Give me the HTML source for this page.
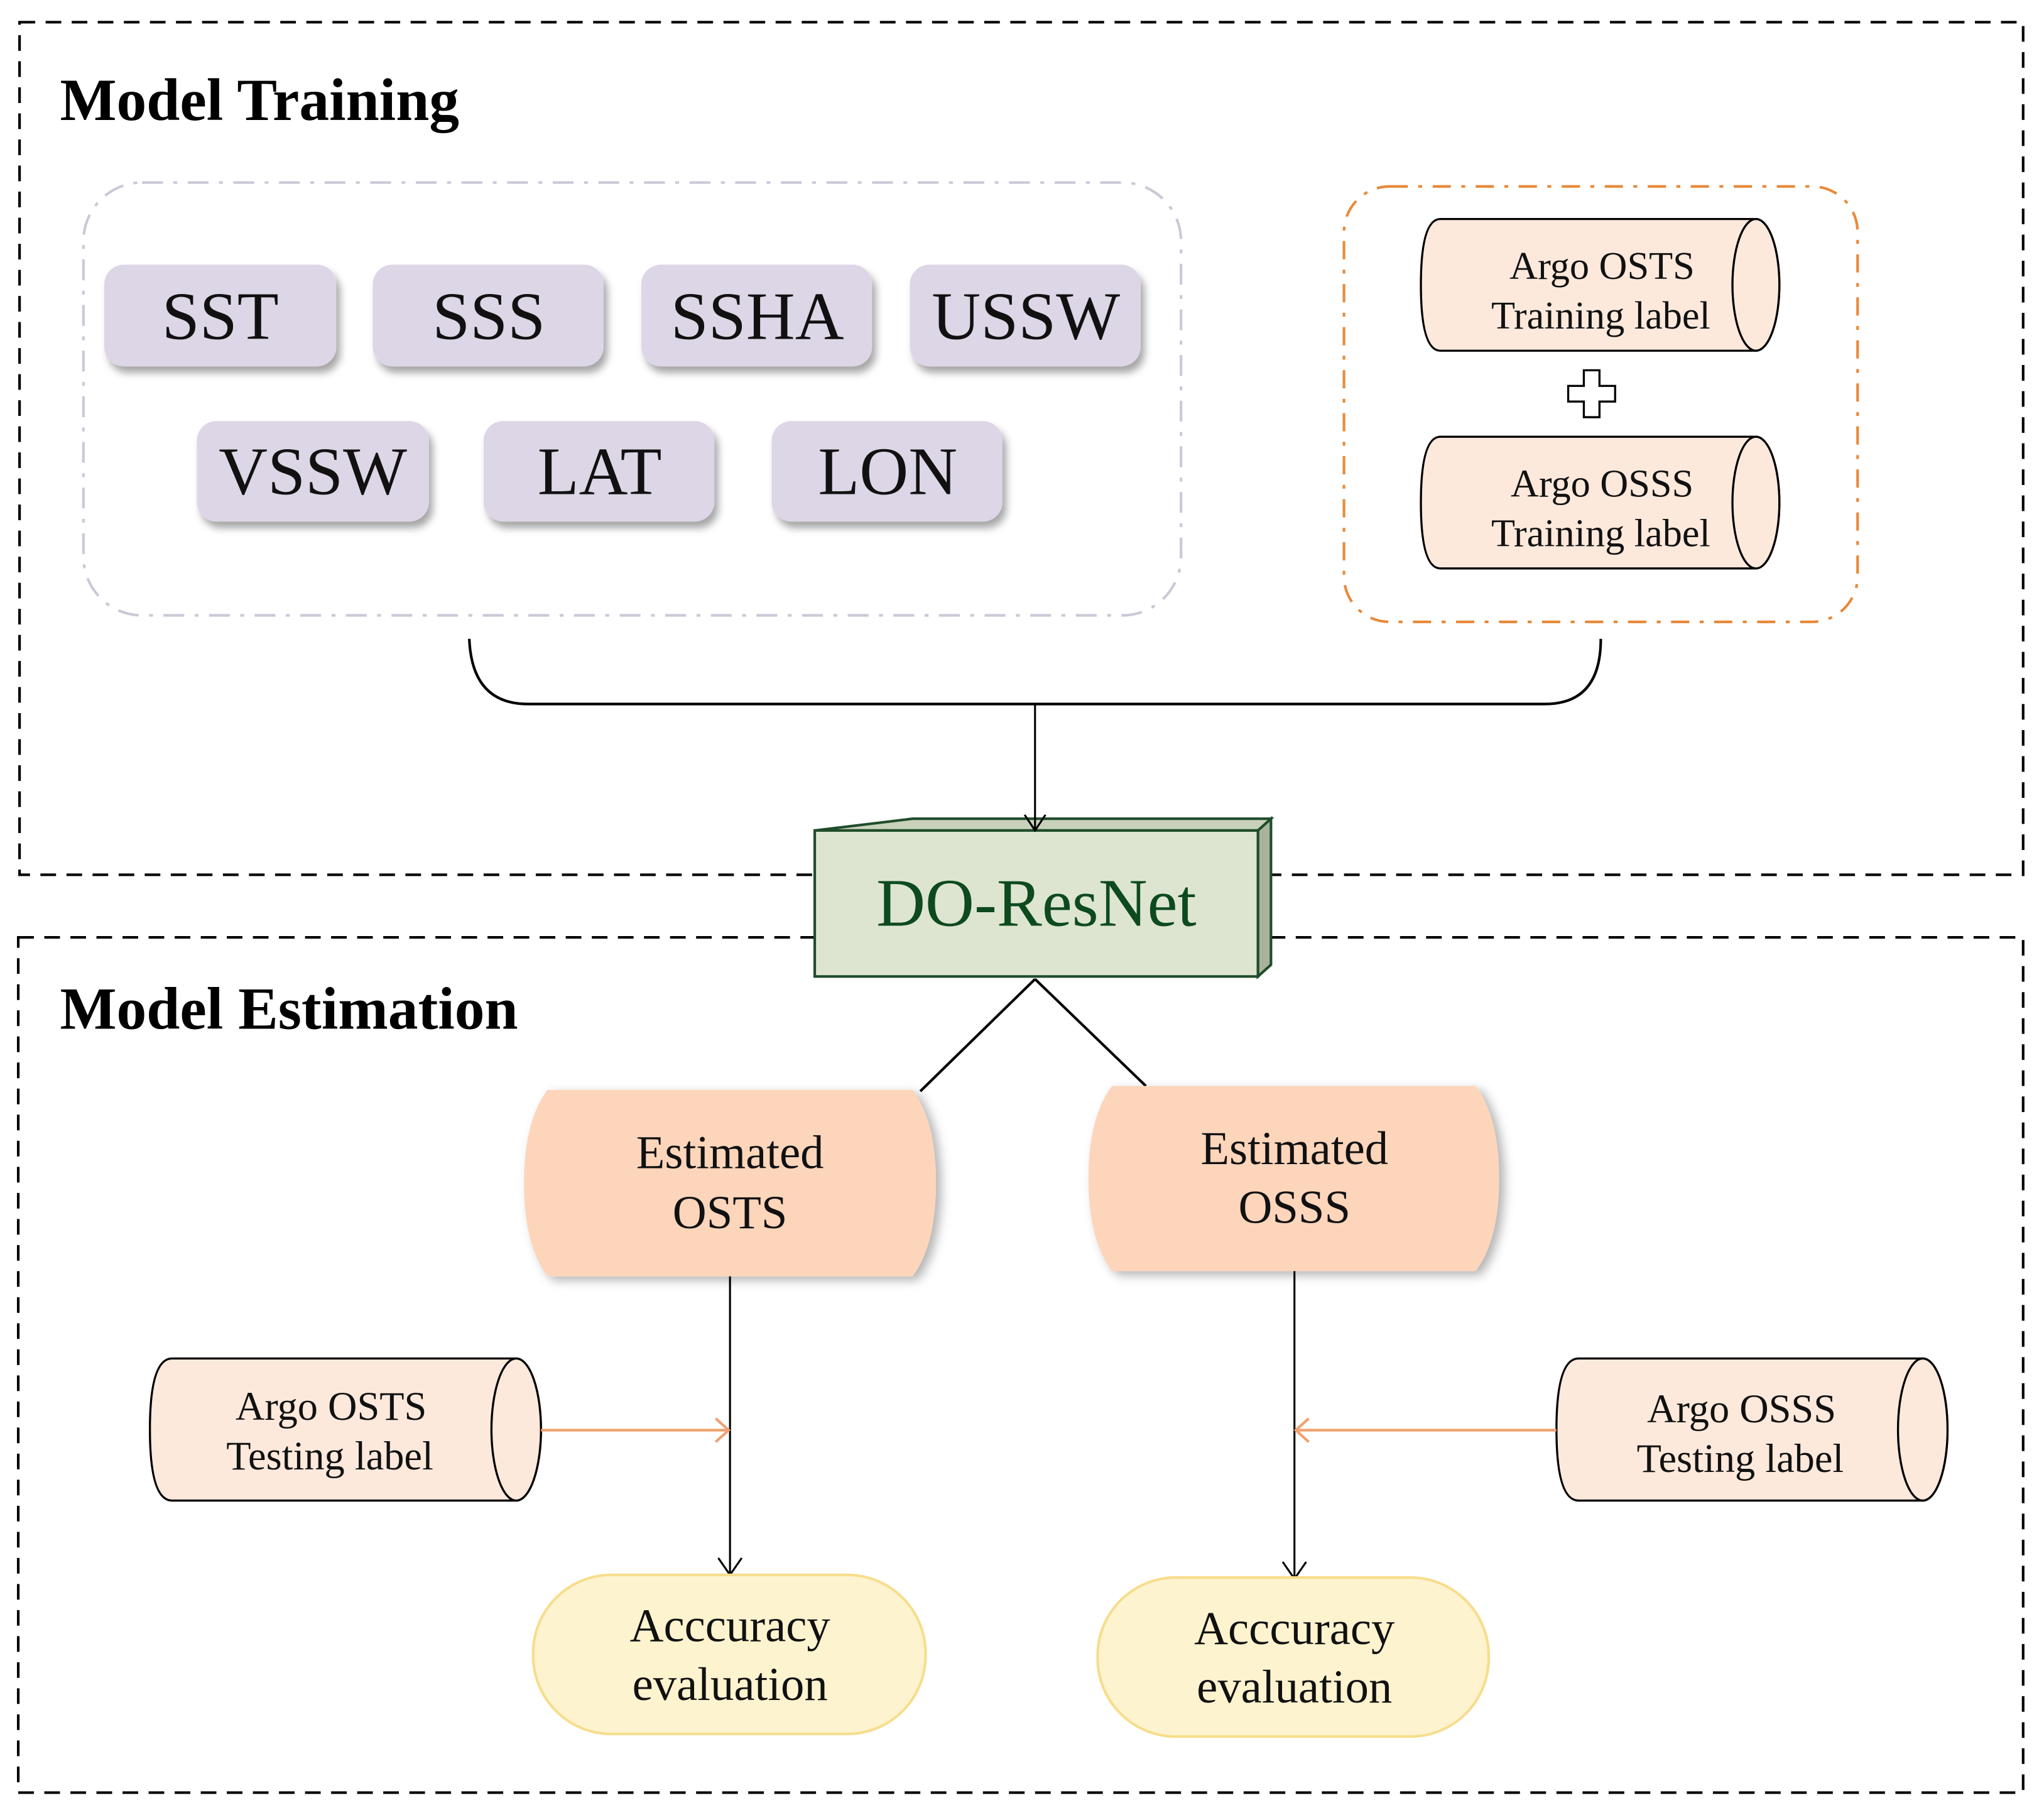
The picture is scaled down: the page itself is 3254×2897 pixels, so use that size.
<!DOCTYPE html>
<html><head><meta charset="utf-8"><style>
html,body{margin:0;padding:0;background:#fff;}
svg{display:block;}
text{font-family:"Liberation Serif",serif;}
</style></head><body>
<svg width="3254" height="2897" viewBox="0 0 1568 1396" preserveAspectRatio="none" xmlns="http://www.w3.org/2000/svg">
<defs>
<filter id="sh" x="-10%" y="-10%" width="130%" height="140%"><feDropShadow dx="3" dy="5" stdDeviation="3" flood-color="#000" flood-opacity="0.35"/></filter>
<filter id="sh2" x="-10%" y="-10%" width="130%" height="130%"><feDropShadow dx="4" dy="3" stdDeviation="4" flood-color="#000" flood-opacity="0.3"/></filter>
</defs>
<rect x="15" y="17" width="1537" height="654" fill="none" stroke="#000" stroke-width="2" stroke-dasharray="12,8"/>
<rect x="14" y="719" width="1538" height="656" fill="none" stroke="#000" stroke-width="2" stroke-dasharray="12,8"/>
<text x="46" y="92" font-size="46" font-weight="bold">Model Training</text>
<text x="46" y="789" font-size="46" font-weight="bold">Model Estimation</text>

<rect x="64" y="140" width="842" height="332" rx="45" fill="none" stroke="#c9c9d8" stroke-width="2" stroke-dasharray="16,8,3,8"/>
<g filter="url(#sh)" fill="#ddd6e6">
<rect x="80" y="203" width="178" height="78" rx="15"/>
<rect x="286" y="203" width="177" height="78" rx="15"/>
<rect x="492" y="203" width="177" height="78" rx="15"/>
<rect x="698" y="203" width="177" height="78" rx="15"/>
<rect x="151" y="323" width="178" height="77" rx="15"/>
<rect x="371" y="323" width="177" height="77" rx="15"/>
<rect x="592" y="323" width="177" height="77" rx="15"/>
</g>
<g font-size="52" text-anchor="middle" fill="#111">
<text x="169" y="260">SST</text>
<text x="375" y="260">SSS</text>
<text x="581" y="260">SSHA</text>
<text x="787" y="260">USSW</text>
<text x="240" y="379">VSSW</text>
<text x="460" y="379">LAT</text>
<text x="681" y="379">LON</text>
</g>

<rect x="1031" y="143" width="394" height="334" rx="35" fill="none" stroke="#e8893a" stroke-width="2" stroke-dasharray="14,8,3,8"/>
<g stroke="#000" stroke-width="1.6" fill="#fde9dc">
<path d="M1105,168 L1347,168 A18,50.5 0 0 1 1347,269 L1105,269 Q1090,269 1090,218.5 Q1090,168 1105,168 Z"/>
<ellipse cx="1347" cy="218.5" rx="18" ry="50.5"/>
<path d="M1105,335 L1347,335 A18,50.5 0 0 1 1347,436 L1105,436 Q1090,436 1090,385.5 Q1090,335 1105,335 Z"/>
<ellipse cx="1347" cy="385.5" rx="18" ry="50.5"/>
</g>
<g font-size="30" text-anchor="middle" fill="#111">
<text x="1229" y="214">Argo OSTS</text><text x="1228" y="252">Training label</text>
<text x="1229" y="381">Argo OSSS</text><text x="1228" y="419">Training label</text>
</g>
<path d="M1215,284 h12 v12 h12 v12 h-12 v12 h-12 v-12 h-12 v-12 h12 z" fill="#fff" stroke="#000" stroke-width="1.6"/>

<path d="M360,490 Q362,540 405,540 L1185,540 Q1228,540 1228,490" fill="none" stroke="#000" stroke-width="2"/>

<g stroke="#1f4d2a" stroke-width="2" fill="#dde5d0">
<path d="M625,637 L700,628 L975,628 L965,637 Z" fill="#c8d2ba"/>
<path d="M965,637 L975,628 L975,740 L965,749 Z" fill="#a9b39c"/>
<rect x="625" y="637" width="340" height="112"/>
</g>
<text x="795" y="710" font-size="52" text-anchor="middle" fill="#0d4a1e">DO-ResNet</text>
<g stroke="#000" stroke-width="1.5" fill="none">
<line x1="794" y1="540" x2="794" y2="637"/>
<path d="M786,625 L794,637 L802,625"/>
</g>

<line x1="794" y1="751" x2="706" y2="837" stroke="#000" stroke-width="2"/>
<line x1="794" y1="751" x2="879" y2="833" stroke="#000" stroke-width="2"/>

<g filter="url(#sh2)" fill="#fdd5bb">
<path d="M420,836 L700,836 Q718,860 718,907 Q718,955 700,979 L420,979 Q402,955 402,907 Q402,860 420,836 Z"/>
<path d="M853,833 L1132,833 Q1150,857 1150,904 Q1150,951 1132,975 L853,975 Q835,951 835,904 Q835,857 853,833 Z"/>
</g>
<g font-size="36" text-anchor="middle" fill="#111">
<text x="560" y="896">Estimated</text><text x="560" y="942">OSTS</text>
<text x="993" y="893">Estimated</text><text x="993" y="938">OSSS</text>
</g>

<g stroke="#000" stroke-width="1.5" fill="none">
<line x1="560" y1="979" x2="560" y2="1208"/>
<path d="M551,1195 L560,1208 L569,1195"/>
<line x1="993" y1="975" x2="993" y2="1211"/>
<path d="M984,1198 L993,1211 L1002,1198"/>
</g>

<g stroke="#000" stroke-width="1.6" fill="#fde9dc">
<path d="M132,1042 L396,1042 A19,54.5 0 0 1 396,1151 L132,1151 Q115,1151 115,1096.5 Q115,1042 132,1042 Z"/>
<ellipse cx="396" cy="1096.5" rx="19" ry="54.5"/>
<path d="M1211,1042 L1475,1042 A19,54.5 0 0 1 1475,1151 L1211,1151 Q1194,1151 1194,1096.5 Q1194,1042 1211,1042 Z"/>
<ellipse cx="1475" cy="1096.5" rx="19" ry="54.5"/>
</g>
<g font-size="31" text-anchor="middle" fill="#111">
<text x="254" y="1089">Argo OSTS</text><text x="253" y="1127">Testing label</text>
<text x="1336" y="1091">Argo OSSS</text><text x="1335" y="1129">Testing label</text>
</g>
<g stroke="#f0a070" stroke-width="2" fill="none">
<line x1="415" y1="1097" x2="559" y2="1097"/>
<path d="M549,1088 L559,1097 L549,1106"/>
<line x1="1194" y1="1097" x2="994" y2="1097"/>
<path d="M1004,1088 L994,1097 L1004,1106"/>
</g>

<g fill="#fef3cf" stroke="#f7dd8c" stroke-width="2">
<rect x="409" y="1208" width="301" height="122" rx="60"/>
<rect x="842" y="1210" width="300" height="122" rx="60"/>
</g>
<g font-size="36" text-anchor="middle" fill="#111">
<text x="560" y="1259">Acccuracy</text><text x="560" y="1304">evaluation</text>
<text x="993" y="1261">Acccuracy</text><text x="993" y="1306">evaluation</text>
</g>
</svg>
</body></html>
